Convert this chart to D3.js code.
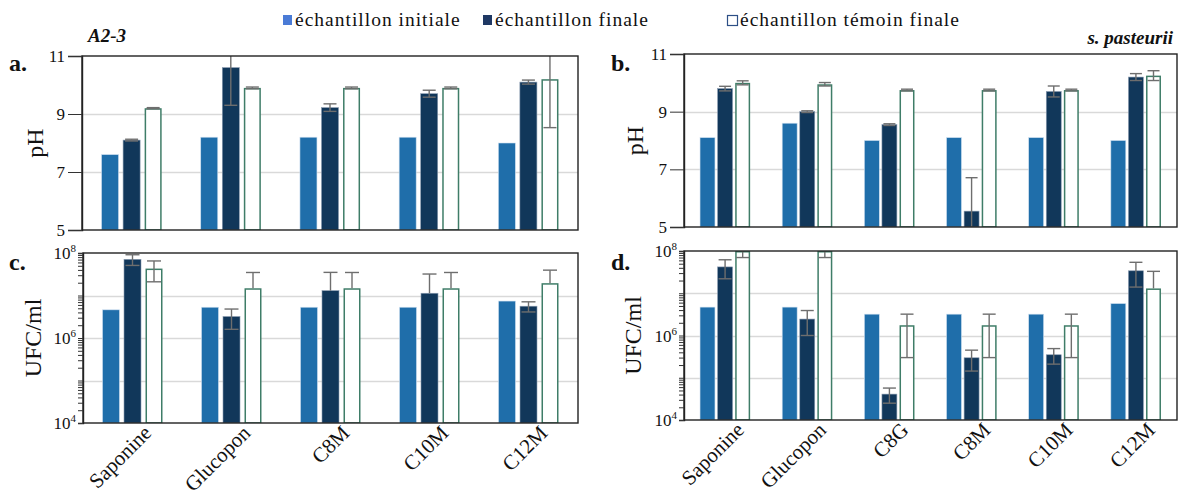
<!DOCTYPE html>
<html><head><meta charset="utf-8">
<script src="https://cdn.jsdelivr.net/npm/d3@7"></script>
<style>
html,body{margin:0;padding:0;background:#fff;}
svg text{font-family:"Liberation Serif","Times New Roman",serif;fill:#111;}
</style></head>
<body>
<svg id="chart" width="1180" height="495"></svg>
<script>
// ---------- DATA ----------
const seriesNames = ["échantillon initiale", "échantillon finale", "échantillon témoin finale"];
const categoriesLeft = ["Saponine", "Glucopon", "C8M", "C10M", "C12M"];
const categoriesRight = ["Saponine", "Glucopon", "C8G", "C8M", "C10M", "C12M"];

// a. pH (A2-3)
const phA_initial = [7.6, 8.2, 8.2, 8.2, 8.0];
const phA_final = [8.1, 10.6, 9.22, 9.7, 10.1];
const phA_finalSD = [0.03, 1.3, 0.13, 0.12, 0.07];
const phA_temoin = [9.2, 9.9, 9.9, 9.9, 10.2];
const phA_temoinSD = [0.02, 0.03, 0.03, 0.03, 1.67];

// b. pH (s. pasteurii)
const phB_initial = [8.1, 8.6, 8.0, 8.1, 8.1, 8.0];
const phB_final = [9.8, 9.0, 8.55, 5.55, 9.7, 10.2];
const phB_finalSD = [0.08, 0.03, 0.03, 1.16, 0.19, 0.12];
const phB_temoin = [10.0, 9.95, 9.75, 9.75, 9.75, 10.25];
const phB_temoinSD = [0.07, 0.06, 0.03, 0.03, 0.03, 0.17];

// c. UFC/ml (A2-3)
const ufcC_initial = [4.6e6, 5.3e6, 5.3e6, 5.3e6, 7.4e6];
const ufcC_final = [7.1e7, 3.2e6, 1.3e7, 1.13e7, 5.6e6];
const ufcC_finalSD = [2.0e7, 1.6e6, 2.2e7, 2.07e7, 1.5e6];
const ufcC_temoin = [4.3e7, 1.48e7, 1.48e7, 1.48e7, 1.95e7];
const ufcC_temoinSD = [2.2e7, 2.0e7, 2.0e7, 2.0e7, 2.0e7];

// d. UFC/ml (s. pasteurii)
const ufcD_initial = [4.7e6, 4.7e6, 3.2e6, 3.2e6, 3.2e6, 5.7e6];
const ufcD_final = [4.2e7, 2.45e6, 4.1e4, 2.97e5, 3.5e5, 3.4e7];
const ufcD_finalSD = [2.0e7, 1.45e6, 1.6e4, 1.53e5, 1.4e5, 2.0e7];
const ufcD_temoin = [1.0e8, 1.0e8, 1.75e6, 1.75e6, 1.75e6, 1.3e7];
const ufcD_temoinSD = [3.0e7, 3.0e7, 1.45e6, 1.45e6, 1.45e6, 2.0e7];

const phTicks = [5, 7, 9, 11];
const phGrid = [7, 9];
const logLabelTicks = [1e4, 1e6, 1e8];
const logGrid = [1e5, 1e6, 1e7];

// ---------- STYLE ----------
const FONT = "'Liberation Serif', 'Times New Roman', serif";
const colInitial = "#1f6eaa";
const colFinal = "#11375a";
const colTemoin = "#3f7d68";
const colErr = "#6e6e6e";
const legendColors = ["#4a7bd6", "#1f3864", "#2d4f86"];

const svg = d3.select("#chart");

function buildRows(cats, a, b, bSD, c, cSD) {
  return cats.map((cat, i) => ({
    cat,
    vals: [
      {k: 0, v: a[i], sd: null},
      {k: 1, v: b[i], sd: bSD[i]},
      {k: 2, v: c[i], sd: cSD[i]}
    ]
  }));
}

let clipId = 0;
function panel(opts) {
  const {left, right, top, bottom, cats, rows, y, isLog, barInner, xLabels} = opts;
  const g = svg.append("g");
  const x0 = d3.scaleBand().domain(cats).range([left, right])
    .paddingInner(opts.pad0).paddingOuter(opts.pad0 / 2);
  const x1 = d3.scaleBand().domain([0, 1, 2]).range([0, x0.bandwidth()]).paddingInner(barInner);

  g.selectAll("line.grid").data(opts.grid).join("line")
    .attr("x1", left).attr("x2", right)
    .attr("y1", d => Math.round(y(d)) + 0.5).attr("y2", d => Math.round(y(d)) + 0.5)
    .attr("stroke", "#d9d9d9").attr("stroke-width", 1.3);

  const id = "clip" + (clipId++);
  svg.append("clipPath").attr("id", id).append("rect")
    .attr("x", left).attr("y", top).attr("width", right - left).attr("height", bottom - top);
  const pg = g.append("g").attr("clip-path", `url(#${id})`);

  const base = y.domain()[0];
  const grp = pg.selectAll("g.grp").data(rows).join("g")
    .attr("transform", d => `translate(${x0(d.cat)},0)`);

  grp.selectAll("rect").data(d => d.vals).join("rect")
    .attr("x", d => x1(d.k) + (d.k === 2 ? 0.75 : 0))
    .attr("width", d => x1.bandwidth() - (d.k === 2 ? 1.5 : 0))
    .attr("y", d => y(d.v) + (d.k === 2 ? 0.75 : 0))
    .attr("height", d => Math.max(0, y(base) - y(d.v) - (d.k === 2 ? 0.75 : 0)))
    .attr("fill", d => d.k === 0 ? colInitial : d.k === 1 ? colFinal : "#ffffff")
    .attr("stroke", d => d.k === 0 ? "#cfe0f0" : d.k === 1 ? "#8a9bb0" : colTemoin)
    .attr("stroke-width", d => d.k === 2 ? 1.5 : 0.6);

  const capW = opts.capW;
  const errs = [];
  rows.forEach(r => r.vals.forEach(v => {
    if (v.sd == null) return;
    const cx = x0(r.cat) + x1(v.k) + x1.bandwidth() / 2;
    const lo = v.v - v.sd;
    const hasLo = !(isLog && lo <= 0);
    errs.push({cx, yHi: y(v.v + v.sd), yLo: hasLo ? y(lo) : y(v.v), hasLo});
  }));
  const eg = pg.selectAll("g.err").data(errs).join("g").attr("stroke", colErr).attr("stroke-width", 1.4);
  eg.append("line").attr("x1", d => d.cx).attr("x2", d => d.cx).attr("y1", d => d.yHi).attr("y2", d => d.yLo);
  eg.append("line").attr("x1", d => d.cx - capW / 2).attr("x2", d => d.cx + capW / 2).attr("y1", d => d.yHi).attr("y2", d => d.yHi);
  eg.filter(d => d.hasLo).append("line").attr("x1", d => d.cx - capW / 2).attr("x2", d => d.cx + capW / 2).attr("y1", d => d.yLo).attr("y2", d => d.yLo);

  g.append("rect").attr("x", left).attr("y", top).attr("width", right - left).attr("height", bottom - top)
    .attr("fill", "none").attr("stroke", "#222").attr("stroke-width", 1.4);

  if (isLog) {
    const minor = [];
    for (let e = 4; e < 8; e++) for (let m = 1; m < 10; m++) minor.push(m * Math.pow(10, e));
    minor.push(1e8);
    const ax = g.append("g").attr("transform", `translate(${left},0)`)
      .call(d3.axisLeft(y).tickValues(minor).tickSize(5).tickFormat(""));
    ax.select(".domain").attr("stroke", "#222").attr("stroke-width", 1.4);
    ax.selectAll(".tick line").attr("stroke", "#333").attr("stroke-width", 1);
    const lab = g.selectAll("text.ylab").data(logLabelTicks).join("text")
      .attr("x", left - 7).attr("y", d => y(d) + 6).attr("font-family", FONT)
      .attr("text-anchor", "end").style("font-size", "17px");
    lab.append("tspan").text("10");
    lab.append("tspan").text(d => Math.round(Math.log10(d))).attr("dy", -7).style("font-size", "11px");
  } else {
    const ax = g.append("g").attr("transform", `translate(${left},0)`)
      .call(d3.axisLeft(y).tickValues(phTicks).tickSize(14).tickPadding(3).tickFormat(d3.format("d")));
    ax.attr("font-family", FONT);
    ax.select(".domain").attr("stroke", "#222").attr("stroke-width", 1.4);
    ax.selectAll(".tick line").attr("stroke", "#333").attr("stroke-width", 1);
    ax.selectAll(".tick text").style("font-size", "17px").attr("font-family", FONT).attr("fill", "#111");
  }

  g.append("text").attr("transform", `translate(${opts.titleX},${(top + bottom) / 2}) rotate(-90)`)
    .attr("font-family", FONT)
    .attr("text-anchor", "middle").attr("dy", "0.35em").style("font-size", "24px").text(opts.yTitle);
  g.append("text").attr("x", opts.letterX).attr("y", top + opts.letterDy).attr("font-family", FONT)
    .style("font-size", "24px").style("font-weight", "bold").text(opts.letter);

  if (xLabels) {
    g.selectAll("text.xl").data(cats).join("text")
      .attr("transform", d => `translate(${x0(d) + x0.bandwidth() / 2 + 15},${bottom + 6}) rotate(-45)`)
      .attr("font-family", FONT)
      .attr("text-anchor", "end").attr("dy", "0.35em").style("font-size", "21px").text(d => d);
  }
}

const yA = d3.scaleLinear().domain([5, 11]).range([230, 56]);
const yB = d3.scaleLinear().domain([5, 11]).range([227, 54]);
const yC = d3.scaleLog().domain([1e4, 1e8]).range([423, 253]);
const yD = d3.scaleLog().domain([1e4, 1e8]).range([420, 251]);

panel({left: 82, right: 578, top: 56, bottom: 230, cats: categoriesLeft,
  rows: buildRows(categoriesLeft, phA_initial, phA_final, phA_finalSD, phA_temoin, phA_temoinSD),
  y: yA, isLog: false, pad0: 0.394, barInner: 0.21, capW: 13, grid: phGrid,
  yTitle: "pH", titleX: 35, letter: "a.", letterX: 9, letterDy: 15});
panel({left: 684, right: 1177, top: 54, bottom: 227, cats: categoriesRight,
  rows: buildRows(categoriesRight, phB_initial, phB_final, phB_finalSD, phB_temoin, phB_temoinSD),
  y: yB, isLog: false, pad0: 0.39, barInner: 0.15, capW: 12, grid: phGrid,
  yTitle: "pH", titleX: 635, letter: "b.", letterX: 611, letterDy: 17});
panel({left: 83, right: 578, top: 253, bottom: 423, cats: categoriesLeft,
  rows: buildRows(categoriesLeft, ufcC_initial, ufcC_final, ufcC_finalSD, ufcC_temoin, ufcC_temoinSD),
  y: yC, isLog: true, pad0: 0.394, barInner: 0.21, capW: 14, grid: logGrid,
  yTitle: "UFC/ml", titleX: 33, letter: "c.", letterX: 9, letterDy: 17, xLabels: true});
panel({left: 684, right: 1177, top: 251, bottom: 420, cats: categoriesRight,
  rows: buildRows(categoriesRight, ufcD_initial, ufcD_final, ufcD_finalSD, ufcD_temoin, ufcD_temoinSD),
  y: yD, isLog: true, pad0: 0.39, barInner: 0.15, capW: 13, grid: logGrid,
  yTitle: "UFC/ml", titleX: 633, letter: "d.", letterX: 611, letterDy: 19, xLabels: true});

// ---------- LEGEND & TITLES ----------
const legendX = [283, 483, 727];
const lg = svg.append("g");
seriesNames.forEach((s, i) => {
  if (i < 2) {
    lg.append("rect").attr("x", legendX[i]).attr("y", 15).attr("width", 9).attr("height", 10).attr("fill", legendColors[i]);
  } else {
    lg.append("rect").attr("x", legendX[i] + 0.5).attr("y", 15.5).attr("width", 10).attr("height", 10)
      .attr("fill", "#fff").attr("stroke", legendColors[i]).attr("stroke-width", 1.2);
  }
  lg.append("text").attr("x", legendX[i] + (i < 2 ? 12 : 13)).attr("y", 26).attr("font-family", FONT)
    .style("font-size", "19.5px").style("letter-spacing", "1px").attr("fill", "#222").text(s);
});
svg.append("text").attr("x", 88).attr("y", 42).attr("font-family", FONT).style("font-size", "19px").style("font-weight", "bold")
  .style("font-style", "italic").text("A2-3");
svg.append("text").attr("x", 1173).attr("y", 44).attr("font-family", FONT).attr("text-anchor", "end").style("font-size", "19px")
  .style("font-weight", "bold").style("font-style", "italic").text("s. pasteurii");
</script>
</body></html>
